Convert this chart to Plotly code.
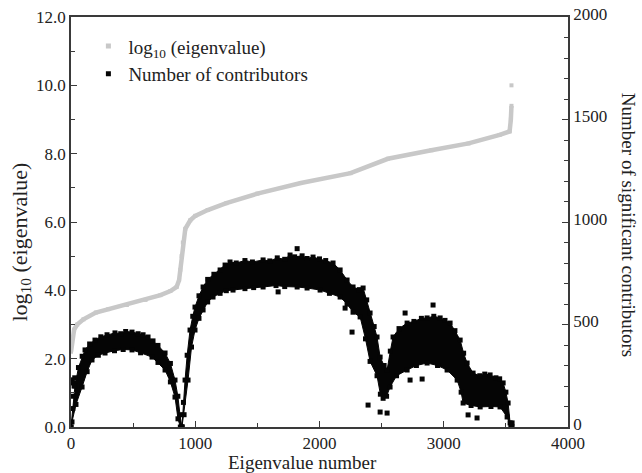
import plotly.graph_objects as go

# ---- log10(eigenvalue) versus eigenvalue number (left axis) ----
eig_number = [0, 10, 25, 50, 100, 200, 300, 450, 600, 720, 800, 850, 870, 880, 890,
              900, 920, 960, 1000, 1100, 1250, 1500, 1850, 2250, 2550, 2900, 3200,
              3450, 3530, 3540, 3545, None, 3545]
log_eig = [2.2, 2.6, 2.85, 3.0, 3.15, 3.35, 3.45, 3.57, 3.72, 3.86, 3.98, 4.1, 4.3, 4.6, 5.0,
           5.4, 5.8, 6.05, 6.18, 6.35, 6.55, 6.83, 7.14, 7.43, 7.85, 8.1, 8.3,
           8.55, 8.65, 9.0, 9.4, None, 10.0]

# ---- number of significant contributors (right axis): band envelopes ----
arch1_x_up = [0, 15, 32, 60, 90, 113, 150, 193, 240, 290, 354, 400, 440, 491, 540, 580,
              620, 660, 700, 757, 800, 837, 860, 877, 893]
arch1_up = [0, 90, 200, 290, 345, 376, 405, 424, 440, 450, 459, 455, 466, 463, 455, 450,
            439, 420, 398, 361, 310, 229, 150, 60, 0]
arch1_x_lo = [0, 8, 40, 89, 130, 169, 220, 274, 350, 420, 491, 560, 652, 700, 757, 800,
              837, 861, 880]
arch1_lo = [0, 25, 110, 195, 270, 327, 350, 361, 372, 378, 376, 362, 341, 315, 278, 220,
            146, 40, 0]

arch2_x_up = [893, 905, 918, 935, 958, 980, 998, 1030, 1063, 1100, 1150, 1200, 1240, 1280,
              1330, 1400, 1460, 1546, 1600, 1660, 1720, 1763, 1800, 1860, 1900, 1948, 2000,
              2050, 2109, 2166, 2222, 2270, 2320, 2351, 2380, 2407, 2440, 2463, 2488, 2520,
              2544, 2570, 2592, 2640, 2705, 2760, 2820, 2866, 2920, 2971, 3010, 3051, 3090,
              3132, 3160, 3188, 3236, 3290, 3330, 3373, 3420, 3450, 3478, 3500, 3518, 3534,
              3550]
arch2_up = [0, 120, 229, 350, 473, 540, 585, 640, 683, 720, 745, 766, 790, 805,
            800, 812, 805, 815, 810, 825, 818, 839, 830, 835, 822, 829, 820,
            812, 800, 766, 717, 683, 670, 678, 620, 556, 490, 439, 341, 300,
            278, 370, 439, 480, 507, 515, 530, 532, 540, 532, 520, 507, 470,
            424, 360, 312, 263, 250, 258, 254, 240, 235, 215, 170, 117, 20,
            0]
arch2_x_lo = [893, 910, 942, 970, 998, 1030, 1063, 1100, 1143, 1200, 1250, 1304, 1400,
              1470, 1546, 1650, 1720, 1820, 1900, 2005, 2080, 2166, 2222, 2270, 2327, 2370,
              2407, 2463, 2490, 2512, 2540, 2568, 2620, 2705, 2780, 2866, 2950, 3027, 3108,
              3140, 3156, 3220, 3293, 3380, 3453, 3510, 3540]
arch2_lo = [0, 60, 229, 390, 473, 530, 571, 610, 634, 652, 665, 668, 675,
            680, 683, 690, 685, 683, 678, 668, 652, 634, 600, 560, 537, 430,
            320, 250, 160, 140, 150, 195, 250, 278, 300, 312, 300, 278, 229,
            170, 117, 105, 98, 100, 98, 49, 0]

# scattered contributors outside the main band
out_x = [10, 20, 30, 25, 15, 1667, 1820, 2206, 2262, 2689, 2914, 2391, 2488, 2544,
         2729, 2826, 3196, 3268, 3545, 3550]
out_y = [230, 215, 240, 200, 150, 659, 870, 580, 463, 556, 595, 107, 73, 68,
         229, 234, 59, 44, 10, 20]

GRAY = "#c8c8c8"
INK = "#050505"
AXIS = "#3a3a3a"
FONT = "Liberation Serif"

fig = go.Figure()

fig.add_trace(go.Scatter(
    x=eig_number, y=log_eig, mode="lines+markers",
    line=dict(color=GRAY, width=4.5),
    marker=dict(symbol="square", size=4, color=GRAY),
    showlegend=False, yaxis="y", connectgaps=False))

for xu, yu, xl, yl in [(arch1_x_up, arch1_up, arch1_x_lo, arch1_lo),
                       (arch2_x_up, arch2_up, arch2_x_lo, arch2_lo)]:
    fig.add_trace(go.Scatter(
        x=xu + xl[::-1], y=yu + yl[::-1], mode="lines+markers",
        fill="toself", fillcolor=INK,
        line=dict(color=INK, width=1),
        marker=dict(symbol="square", size=5, color=INK),
        showlegend=False, yaxis="y2"))

fig.add_trace(go.Scatter(
    x=out_x, y=out_y, mode="markers",
    marker=dict(symbol="square", size=5, color=INK),
    showlegend=False, yaxis="y2"))

# legend entries
fig.add_trace(go.Scatter(x=[None], y=[None], mode="markers",
                         marker=dict(symbol="square", size=5, color=GRAY),
                         name="log<sub>10</sub> (eigenvalue)"))
fig.add_trace(go.Scatter(x=[None], y=[None], mode="markers",
                         marker=dict(symbol="square", size=5, color=INK),
                         name="Number of contributors"))

tickfont = dict(family=FONT, size=17, color="#222")

fig.update_layout(
    width=642, height=473,
    margin=dict(l=71, r=74, t=17, b=46),
    paper_bgcolor="white", plot_bgcolor="white",
    font=dict(family=FONT, color="#222"),
    xaxis=dict(range=[0, 4000], tickvals=[0, 1000, 2000, 3000, 4000],
               ticks="inside", ticklen=6, tickwidth=1.2, tickcolor=AXIS,
               minor=dict(dtick=500, tick0=0, ticks="inside", ticklen=4, tickcolor=AXIS),
               showline=True, linecolor=AXIS, linewidth=1.5, mirror=True,
               showgrid=False, zeroline=False, tickfont=tickfont, automargin=False),
    yaxis=dict(range=[0, 12], tickvals=[0, 2, 4, 6, 8, 10, 12], tickformat=".1f",
               ticks="inside", ticklen=6, tickwidth=1.2, tickcolor=AXIS,
               minor=dict(dtick=1, tick0=0, ticks="inside", ticklen=4, tickcolor=AXIS),
               showline=True, linecolor=AXIS, linewidth=1.5,
               showgrid=False, zeroline=False, tickfont=tickfont, automargin=False),
    yaxis2=dict(range=[0, 2000], tickvals=[0, 500, 1000, 1500, 2000],
                overlaying="y", side="right", anchor="x",
                ticks="inside", ticklen=6, tickwidth=1.2, tickcolor=AXIS,
                minor=dict(dtick=100, tick0=0, ticks="inside", ticklen=4, tickcolor=AXIS),
                showline=True, linecolor=AXIS, linewidth=1.5,
                showgrid=False, zeroline=False, tickfont=tickfont,
                ticklabelshift=-3, automargin=False),
    legend=dict(x=0.035, y=0.975, xanchor="left", yanchor="top",
                bgcolor="rgba(0,0,0,0)", font=dict(family=FONT, size=19, color="#222"),
                tracegroupgap=0, itemwidth=30),
    annotations=[
        dict(text="Eigenvalue number", x=0.465, y=0, xref="paper", yref="paper",
             yshift=-23, xanchor="center", yanchor="top", showarrow=False,
             font=dict(family=FONT, size=19, color="#222")),
        dict(text="log<sub>10</sub> (eigenvalue)", x=0, y=0.45, xref="paper", yref="paper",
             xshift=-51, xanchor="center", yanchor="middle", textangle=-90, showarrow=False,
             font=dict(family=FONT, size=22, color="#222")),
        dict(text="Number of significant contributors", x=1, y=0.493, xref="paper",
             yref="paper", xshift=60, xanchor="center", yanchor="middle", textangle=90,
             showarrow=False, font=dict(family=FONT, size=19, color="#222")),
    ],
)

fig.write_html("out.html")
